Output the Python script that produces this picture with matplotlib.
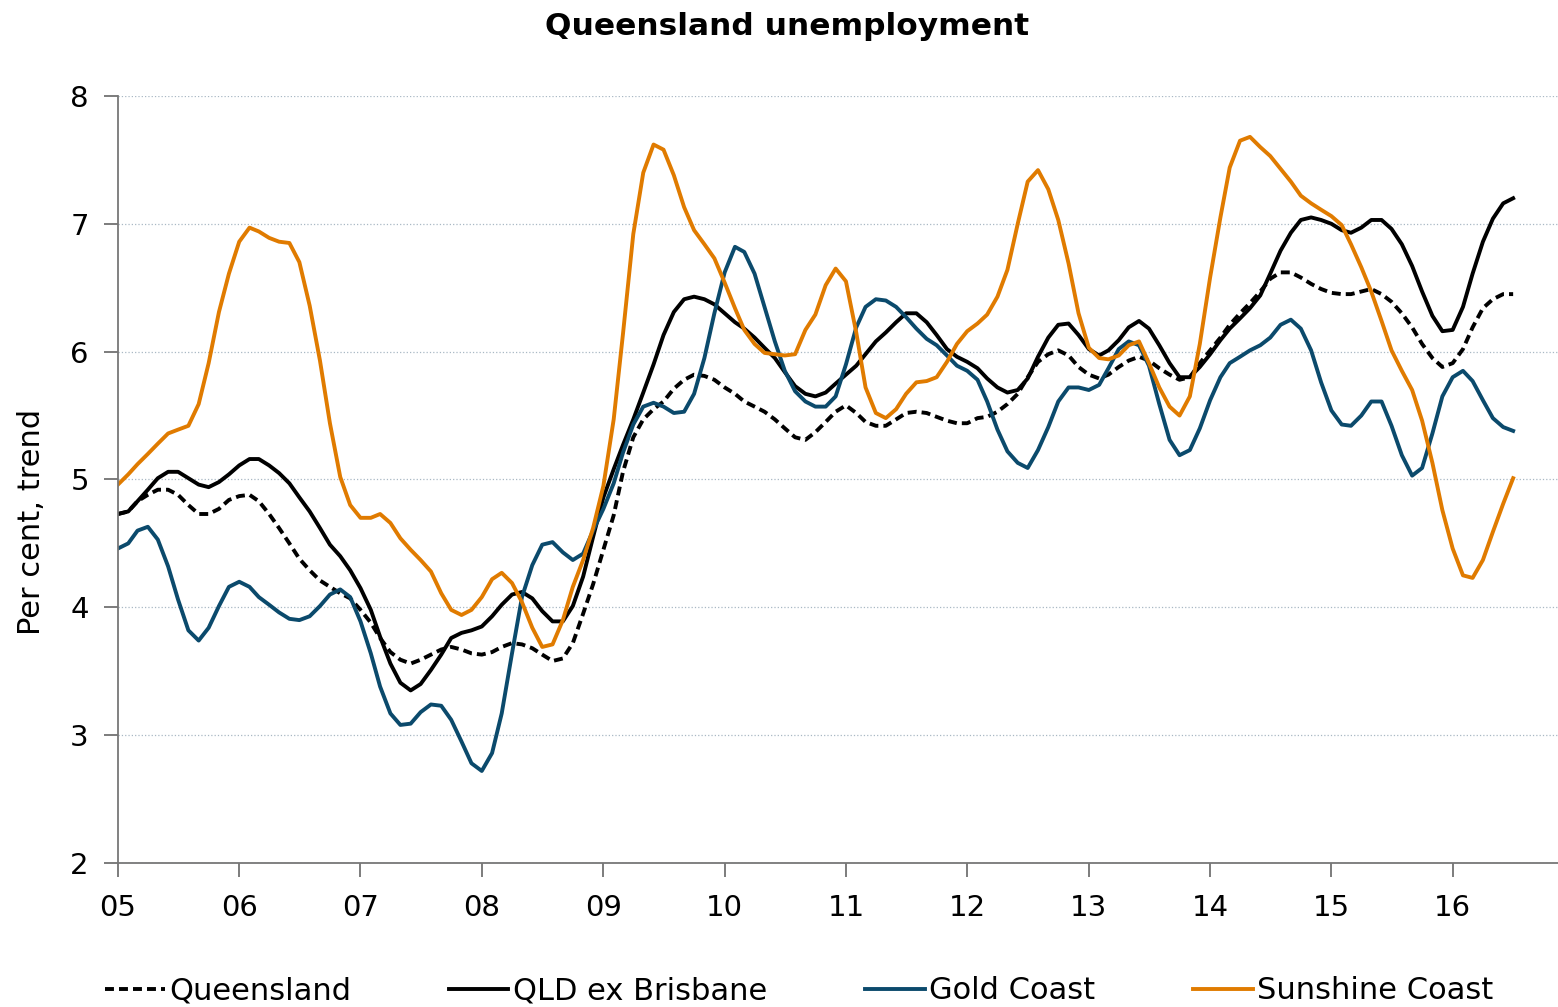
import numpy as np
import pandas as pd
import matplotlib
matplotlib.use("Agg")
import matplotlib.pyplot as plt
import matplotlib.dates as mdates

# monthly trend unemployment rates, Jan 2005 - Jul 2016
months = pd.date_range("2005-01-01", periods=139, freq="MS")

queensland = [
    4.73, 4.75, 4.83, 4.88, 4.92, 4.92, 4.88, 4.80, 4.73, 4.73,
    4.77, 4.84, 4.87, 4.88, 4.83, 4.73, 4.62, 4.50, 4.38, 4.29,
    4.21, 4.16, 4.11, 4.07, 3.98, 3.88, 3.76, 3.65, 3.59, 3.56,
    3.59, 3.63, 3.67, 3.69, 3.67, 3.64, 3.63, 3.65, 3.69, 3.72,
    3.71, 3.68, 3.63, 3.58, 3.60, 3.72, 3.95, 4.18, 4.45, 4.72,
    5.06, 5.33, 5.47, 5.55, 5.61, 5.71, 5.78, 5.82, 5.81, 5.78,
    5.72, 5.67, 5.61, 5.57, 5.53, 5.47, 5.40, 5.33, 5.31, 5.37,
    5.45, 5.53, 5.58, 5.52, 5.45, 5.42, 5.42, 5.47, 5.52, 5.53,
    5.52, 5.49, 5.46, 5.44, 5.44, 5.48, 5.49, 5.53, 5.59, 5.67,
    5.80, 5.92, 5.98, 6.01, 5.97, 5.88, 5.82, 5.79, 5.82, 5.88,
    5.93, 5.96, 5.93, 5.87, 5.82, 5.78, 5.80, 5.91, 6.01, 6.11,
    6.21, 6.30, 6.38, 6.47, 6.57, 6.62, 6.62, 6.58, 6.53, 6.49,
    6.46, 6.45, 6.45, 6.47, 6.49, 6.45, 6.39, 6.30, 6.19, 6.06,
    5.95, 5.88, 5.91, 6.02, 6.19, 6.34, 6.41, 6.45, 6.45,
]

qld_ex_brisbane = [
    4.73, 4.75, 4.83, 4.92, 5.01, 5.06, 5.06, 5.01, 4.96, 4.94,
    4.98, 5.04, 5.11, 5.16, 5.16, 5.11, 5.05, 4.97, 4.86, 4.75,
    4.62, 4.49, 4.40, 4.29, 4.15, 3.98, 3.77, 3.56, 3.41, 3.35,
    3.40, 3.51, 3.63, 3.76, 3.80, 3.82, 3.85, 3.93, 4.02, 4.10,
    4.12, 4.07, 3.97, 3.89, 3.89, 4.01, 4.24, 4.55, 4.86, 5.08,
    5.27, 5.47, 5.68, 5.90, 6.13, 6.31, 6.41, 6.43, 6.41, 6.37,
    6.30, 6.23, 6.18, 6.11, 6.03, 5.95, 5.84, 5.73, 5.67, 5.65,
    5.68, 5.75, 5.82, 5.89, 5.98, 6.08, 6.15, 6.23, 6.30, 6.30,
    6.23, 6.13, 6.02, 5.96, 5.92, 5.87, 5.79, 5.72, 5.68, 5.70,
    5.79, 5.96, 6.11, 6.21, 6.22, 6.13, 6.02, 5.97, 6.01, 6.09,
    6.19, 6.24, 6.18, 6.05, 5.91, 5.80, 5.80, 5.88, 5.98, 6.09,
    6.18, 6.26, 6.34, 6.44, 6.61, 6.79, 6.93, 7.03, 7.05, 7.03,
    7.00, 6.95, 6.93, 6.97, 7.03, 7.03, 6.96, 6.84, 6.67, 6.47,
    6.28, 6.16, 6.17, 6.35, 6.61, 6.86, 7.04, 7.16, 7.20,
]

gold_coast = [
    4.46, 4.50, 4.60, 4.63, 4.53, 4.32, 4.06, 3.82, 3.74, 3.84,
    4.01, 4.16, 4.20, 4.16, 4.08, 4.02, 3.96, 3.91, 3.90, 3.93,
    4.01, 4.10, 4.14, 4.08, 3.89, 3.64, 3.38, 3.17, 3.08, 3.09,
    3.18, 3.24, 3.23, 3.12, 2.95, 2.78, 2.72, 2.86, 3.17, 3.64,
    4.08, 4.33, 4.49, 4.51, 4.43, 4.37, 4.42, 4.60, 4.77, 4.97,
    5.21, 5.43, 5.57, 5.60, 5.57, 5.52, 5.53, 5.67, 5.95, 6.30,
    6.62, 6.82, 6.78, 6.61, 6.35, 6.08, 5.85, 5.69, 5.61, 5.57,
    5.57, 5.65, 5.90, 6.19, 6.35, 6.41, 6.40, 6.35, 6.27, 6.18,
    6.10, 6.05, 5.97, 5.89, 5.85, 5.78, 5.61, 5.39, 5.22, 5.13,
    5.09, 5.23, 5.41, 5.61, 5.72, 5.72, 5.70, 5.74, 5.87, 6.02,
    6.08, 6.05, 5.89, 5.59, 5.31, 5.19, 5.23, 5.40, 5.62, 5.80,
    5.91, 5.96, 6.01, 6.05, 6.11, 6.21, 6.25, 6.18, 6.01, 5.76,
    5.54, 5.43, 5.42, 5.50, 5.61, 5.61, 5.42, 5.19, 5.03, 5.09,
    5.36, 5.65, 5.80, 5.85, 5.77, 5.62, 5.48, 5.41, 5.38,
]

sunshine_coast = [
    4.96, 5.04, 5.12, 5.20, 5.28, 5.36, 5.39, 5.42, 5.59, 5.91,
    6.31, 6.61, 6.86, 6.97, 6.94, 6.89, 6.86, 6.85, 6.70, 6.36,
    5.93, 5.44, 5.02, 4.80, 4.70, 4.70, 4.73, 4.66, 4.54, 4.45,
    4.37, 4.28, 4.11, 3.98, 3.94, 3.98, 4.08, 4.22, 4.27, 4.19,
    4.04, 3.84, 3.69, 3.71, 3.90, 4.16, 4.37, 4.62, 4.95, 5.47,
    6.14, 6.92, 7.40, 7.62, 7.58, 7.38, 7.13, 6.95, 6.84, 6.73,
    6.54, 6.34, 6.17, 6.06, 5.99, 5.98, 5.97, 5.98, 6.17, 6.29,
    6.52, 6.65, 6.55, 6.15, 5.72, 5.52, 5.48, 5.55, 5.67, 5.76,
    5.77, 5.80, 5.92, 6.06, 6.16, 6.22, 6.29, 6.43, 6.64, 7.00,
    7.33, 7.42, 7.27, 7.03, 6.69, 6.30, 6.03, 5.95, 5.94, 5.97,
    6.05, 6.08, 5.91, 5.72, 5.57, 5.50, 5.65, 6.06, 6.58, 7.05,
    7.44, 7.65, 7.68, 7.60, 7.53, 7.43, 7.33, 7.22, 7.16, 7.11,
    7.06, 6.99, 6.84, 6.66, 6.47, 6.24, 6.01, 5.85, 5.70, 5.46,
    5.13, 4.76, 4.46, 4.25, 4.23, 4.37, 4.59, 4.81, 5.01,
]

fig = plt.figure(figsize=(15.58, 10.07), dpi=100)
ax = fig.add_axes([0.0757, 0.143, 0.9243, 0.7617])

ax.plot(months, queensland, color="black", lw=2.8, ls=(0, (2.3, 1.3)), label="Queensland")
ax.plot(months, qld_ex_brisbane, color="black", lw=2.8, label="QLD ex Brisbane")
ax.plot(months, gold_coast, color="#0b4a6c", lw=2.8, label="Gold Coast")
ax.plot(months, sunshine_coast, color="#e07b00", lw=2.8, label="Sunshine Coast")

ax.set_ylim(2, 8)
ax.set_yticks(range(2, 9))
ax.set_xlim(pd.Timestamp("2005-01-01"), pd.Timestamp("2016-11-13"))
ax.xaxis.set_major_locator(mdates.YearLocator())
ax.xaxis.set_major_formatter(mdates.DateFormatter("%y"))

ax.grid(axis="y", color="#a9b8c4", ls=":", lw=0.9)
ax.set_axisbelow(True)
for side in ["top", "right"]:
    ax.spines[side].set_visible(False)
for side in ["left", "bottom"]:
    ax.spines[side].set_color("#777777")
    ax.spines[side].set_linewidth(1.3)
ax.tick_params(axis="both", colors="#666666", labelcolor="black", labelsize=21,
               length=10, width=1.2)
ax.tick_params(axis="x", pad=12)
ax.tick_params(axis="y", pad=11)

ax.set_ylabel("Per cent, trend", fontsize=22)
ax.yaxis.set_label_coords(-0.05, 0.445)
fig.suptitle("Queensland unemployment", fontsize=22.5, fontweight="bold", x=0.505, y=0.988)

fig.legend(loc="center", bbox_to_anchor=(0.513, 0.016), ncol=4, frameon=False,
           fontsize=22, handlelength=1.95, handletextpad=0.15, columnspacing=3.2)

fig.savefig("out.png", dpi=100)
